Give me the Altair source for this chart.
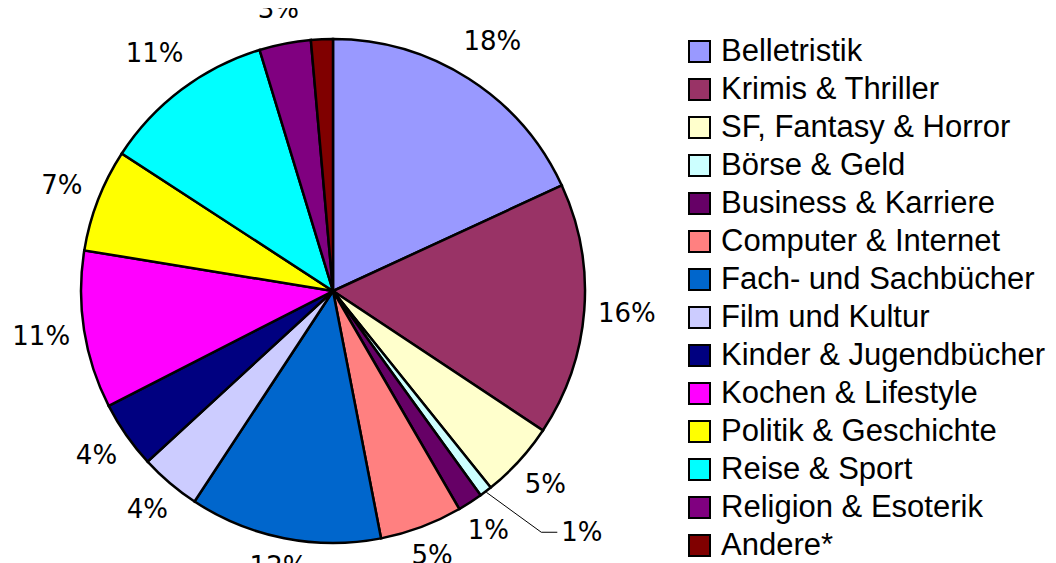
import altair as alt
import pandas as pd

categories = ["Belletristik", "Krimis & Thriller", "SF, Fantasy & Horror", "Börse & Geld",
              "Business & Karriere", "Computer & Internet", "Fach- und Sachbücher",
              "Film und Kultur", "Kinder & Jugendbücher", "Kochen & Lifestyle",
              "Politik & Geschichte", "Reise & Sport", "Religion & Esoterik", "Andere*"]
shares = [18.1, 16.2, 4.9, 0.8, 1.6, 5.3, 12.3, 3.9, 4.3, 10.1, 6.6, 11.1, 3.3, 1.4]
labels = ["18%", "16%", "5%", "1%", "1%", "5%", "12%", "4%", "4%", "11%", "7%", "11%", "3%", "1%"]
colors = ["#9999FF", "#993366", "#FFFFCC", "#CCFFFF", "#660066", "#FF8080", "#0066CC",
          "#CCCCFF", "#000080", "#FF00FF", "#FFFF00", "#00FFFF", "#800080", "#800000"]

df = pd.DataFrame({"cat": categories, "share": shares, "label": labels,
                   "idx": list(range(len(categories)))})

CX, CY, R = 325, 283, 252
GAP = 13
LEADER_CAT = "Börse & Geld"
FONT_LBL = "DejaVu Sans"

pie = alt.Chart(df).mark_arc(outerRadius=R, stroke="black", strokeWidth=2.5).encode(
    theta=alt.Theta("share:Q", stack=True),
    order=alt.Order("idx:Q", sort="ascending"),
    x=alt.value(CX),
    y=alt.value(CY),
    color=alt.Color(
        "cat:N",
        sort=categories,
        scale=alt.Scale(domain=categories, range=colors),
        legend=alt.Legend(
            orient="none", legendX=676, legendY=28, title=None,
            symbolType="square", symbolSize=441, symbolStrokeColor="black",
            symbolStrokeWidth=2, symbolOpacity=1,
            labelFont="Liberation Sans", labelFontSize=31, labelColor="black",
            labelLimit=0, rowPadding=6, labelOffset=6,
        ),
    ),
)

# geometry of each slice (mid angle), derived from the data
calc = alt.Chart(df).transform_joinaggregate(
    total="sum(share)"
).transform_window(
    cum="sum(share)", sort=[alt.SortField("idx", order="ascending")], frame=[None, 0]
).transform_calculate(
    mid="(datum.cum - datum.share / 2) / datum.total * 2 * PI"
).transform_calculate(
    hw="(length(datum.label) - 1) * 8.3 + 12.4",
    hh="cos(datum.mid) > 0 ? 18 : 11",
).transform_calculate(
    lr=f"{R} + {GAP} + datum.hw * abs(sin(datum.mid)) + datum.hh * abs(cos(datum.mid))"
).transform_calculate(
    lx=f"{CX} + datum.lr * sin(datum.mid)",
    ly=f"{CY} - datum.lr * cos(datum.mid)",
    sx=f"{CX} + {R + 1} * sin(datum.mid)",
    sy=f"{CY} - {R + 1} * cos(datum.mid)",
).transform_calculate(
    ex="datum.sx + 55", ey="datum.sy + 40",
    shown=f"datum.cat === '{LEADER_CAT}' || datum.ly < 0 ? '' : datum.label",
).transform_calculate(
    hx="datum.ex + 16"
)

text = calc.mark_text(font=FONT_LBL, fontSize=26, color="black",
                      align="center", baseline="middle").encode(
    x=alt.X("lx:Q", scale=None, axis=None),
    y=alt.Y("ly:Q", scale=None, axis=None),
    text="shown:N",
)

lead = calc.transform_filter(f"datum.cat === '{LEADER_CAT}'")

lead1 = lead.mark_rule(color="black", strokeWidth=1).encode(
    x=alt.X("sx:Q", scale=None, axis=None),
    y=alt.Y("sy:Q", scale=None, axis=None),
    x2="ex:Q", y2="ey:Q",
)
lead2 = lead.mark_rule(color="black", strokeWidth=1).encode(
    x=alt.X("ex:Q", scale=None, axis=None),
    y=alt.Y("ey:Q", scale=None, axis=None),
    x2="hx:Q",
)
blab = lead.mark_text(font=FONT_LBL, fontSize=26, color="black",
                      align="left", baseline="middle", dx=4, dy=1).encode(
    x=alt.X("hx:Q", scale=None, axis=None),
    y=alt.Y("ey:Q", scale=None, axis=None),
    text="label:N",
)

chart = alt.layer(pie, text, lead1, lead2, blab).properties(
    width=1040, height=555,
    autosize=alt.AutoSizeParams(type="none"),
    padding=0,
    background="white",
).configure_view(strokeWidth=0)

chart.save("out.html", embed_options={"renderer": "svg", "actions": False})
